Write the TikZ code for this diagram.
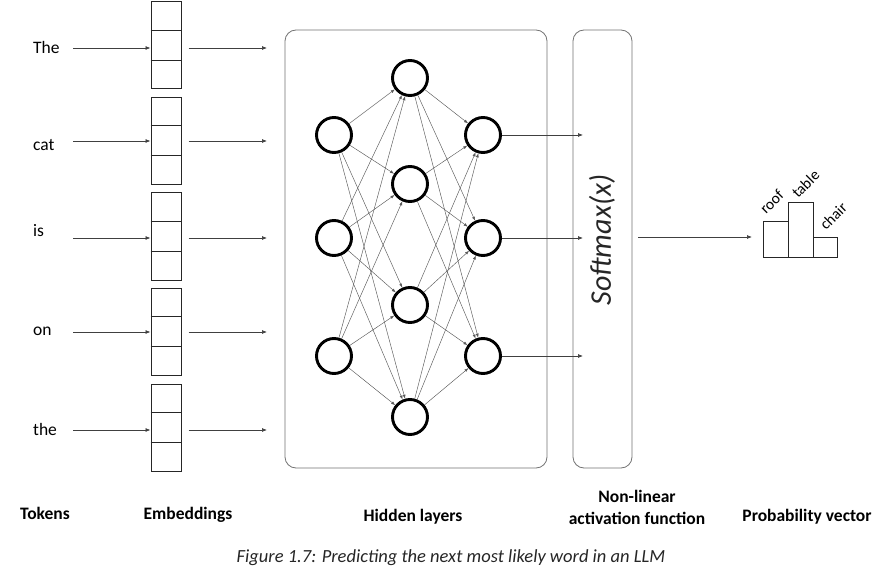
\documentclass[tikz,border=0pt]{standalone}
\usepackage{fontspec}
\setmainfont{Carlito}
\usetikzlibrary{arrows.meta}
\begin{document}
\begin{tikzpicture}[x=1pt,y=-1pt,
  tok/.style={anchor=west,inner sep=0pt,text width=40pt,align=left,font=\fontsize{17.5}{19}\selectfont},
  embbox/.style={draw=black!85,line width=1pt,minimum width=30pt,minimum height=87pt,inner sep=0pt},
  arr/.style={draw=black!75,line width=0.7pt,-{Latex[length=5pt,width=4pt]}},
  panel/.style={draw=black!55,line width=0.8pt,rounded corners=11pt,inner sep=0pt},
  neuron/.style={circle,draw=black,line width=2.9pt,minimum size=35pt,inner sep=0pt},
  conn/.style={draw=black!65,line width=0.45pt,-{Latex[length=4pt,width=3pt]}},
  bar/.style={draw=black!85,line width=1pt},
  barlab/.style={rotate=45,anchor=base west,inner sep=0pt,font=\fontsize{15.5}{17}\selectfont},
  caplabel/.style={anchor=base,font=\bfseries\fontsize{17.5}{21}\selectfont,align=center},
]
\useasboundingbox[fill=white] (0,0) rectangle (889,572);

% tokens and embeddings
\foreach \i/\w/\ty/\ay/\by in {1/The/47/48/45.5,2/cat/145/141/141,3/is/231/238/236.5,4/on/331/332/331.5,5/the/429/430/427.5}{
  \node[embbox] (e\i) at (166,\by) {};
  \draw[black!85,line width=1pt] ([yshift=-29pt]e\i.north west) -- ([yshift=-29pt]e\i.north east);
  \draw[black!85,line width=1pt] ([yshift=29pt]e\i.south west) -- ([yshift=29pt]e\i.south east);
  \node[tok] (t\i) at (33,\ty) {\w};
  \coordinate (h\i) at (267,\ay);
  \draw[arr] (t\i.east |- h\i) -- (e\i.west |- h\i);
  \draw[arr,shorten <=7pt] (e\i.east |- h\i) -- (h\i);
}

% panels
\node[panel,minimum width=262pt,minimum height=438pt] (hid) at (416,249) {};
\node[panel,minimum width=59pt,minimum height=438pt] (sm) at (602.5,249) {};
\node[rotate=90,font=\itshape\fontsize{30}{32}\selectfont,text=black!85] (smt) at (602,240) {Softmax(x)};

% neurons
\foreach \i/\y in {1/135,2/238,3/356}{
  \node[neuron] (L\i) at (334,\y) {};
  \node[neuron] (R\i) at (483,\y) {};
}
\foreach \j/\y in {1/78,2/184,3/305,4/417}{
  \node[neuron] (M\j) at (410,\y) {};
}
\foreach \i in {1,2,3}{
  \foreach \j in {1,2,3,4}{
    \draw[conn] (L\i) -- (M\j);
    \draw[conn] (M\j) -- (R\i);
  }
}
\foreach \i/\y in {1/135,2/238,3/356}{
  \coordinate (s\i) at (583,\y);
  \draw[arr] (R\i) -- (s\i);
}

% output arrow
\coordinate (pv) at (752,237);
\draw[arr,shorten <=6pt] (sm.east |- pv) -- (pv);

% bar chart
\draw[bar] (763,222) rectangle (788,258);
\draw[bar] (788,203) rectangle (813,258);
\draw[bar] (813,238) rectangle (837,258);
\node[barlab] (lroof) at (766,215) {roof};
\node[barlab] (ltable) at (798,199) {table};
\node[barlab] (lchair) at (826,231) {chair};

% bottom labels
\node[caplabel] (c1) at (45,519) {Tokens};
\node[caplabel] (c2) at (188,519) {Embeddings};
\node[caplabel] (c3) at (413,521) {Hidden layers};
\node[caplabel] (c4a) at (637,502) {Non-linear};
\node[caplabel] (c4b) at (637,524) {activation function};
\node[caplabel] (c5) at (807,521) {Probability vector};

\node[font=\itshape\fontsize{18.5}{20}\selectfont,text=black!85] (capt) at (451,558) {Figure 1.7: Predicting the next most likely word in an LLM};
\end{tikzpicture}
\end{document}
